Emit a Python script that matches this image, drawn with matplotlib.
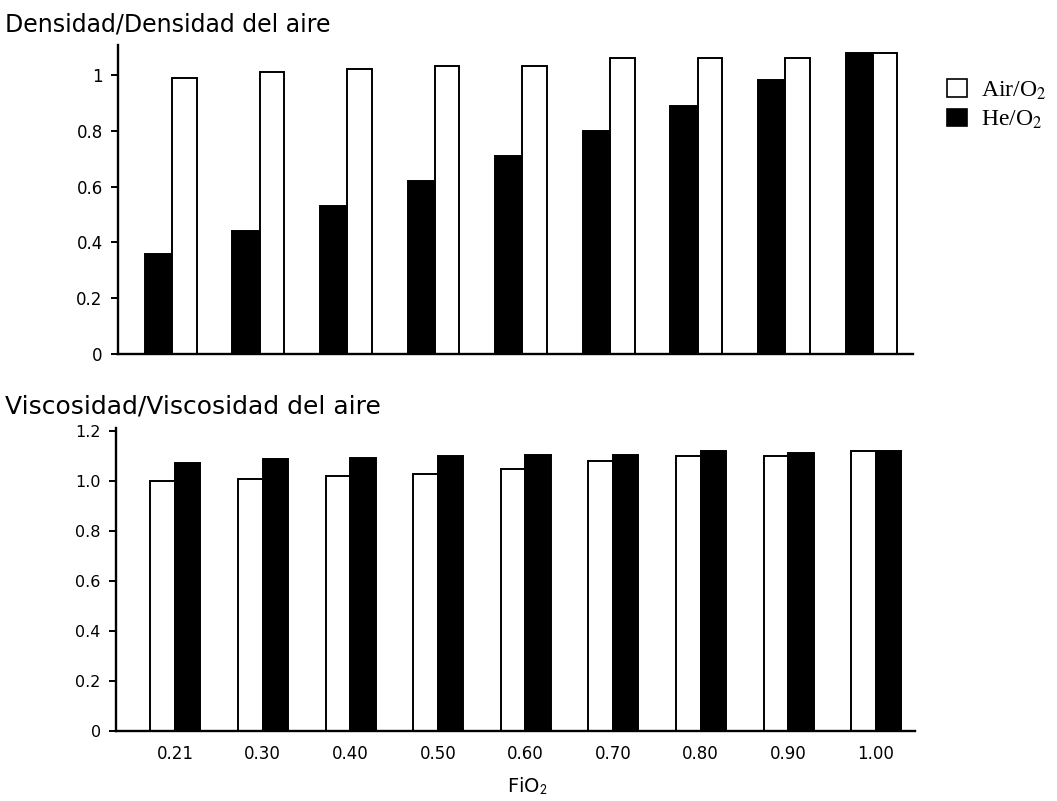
import numpy as np
import matplotlib
matplotlib.use("Agg")
import matplotlib.pyplot as plt
from matplotlib.patches import Patch

plt.rcParams['mathtext.fontset'] = 'stix'

# datos
fio2 = ['0.21', '0.30', '0.40', '0.50', '0.60', '0.70', '0.80', '0.90', '1.00']
dens_air = [0.99, 1.01, 1.02, 1.03, 1.03, 1.06, 1.06, 1.06, 1.08]
dens_he = [0.36, 0.44, 0.53, 0.62, 0.71, 0.80, 0.89, 0.98, 1.08]
visc_air = [1.00, 1.01, 1.02, 1.03, 1.05, 1.08, 1.10, 1.10, 1.12]
visc_he = [1.075, 1.09, 1.095, 1.10, 1.105, 1.105, 1.12, 1.115, 1.12]

W, H = 1057, 801
fig = plt.figure(figsize=(W / 100, H / 100), dpi=100)

x = np.arange(len(fio2))
px = 87.6  # pixeles por grupo

def estilo(ax):
    for s in ['top', 'right']:
        ax.spines[s].set_visible(False)
    for s in ['left', 'bottom']:
        ax.spines[s].set_linewidth(1.7)
    ax.tick_params(axis='y', length=5, width=1.4, labelsize=12, pad=6)
    ax.tick_params(axis='x', length=0)

# grafico de arriba: densidad
ax1 = fig.add_axes([118 / W, 1 - 354 / H, (913 - 118) / W, (354 - 45) / H])
ax1.bar(x - 0.155, dens_he, width=0.31, color='black', edgecolor='black', linewidth=1.4)
ax1.bar(x + 0.14, dens_air, width=0.28, color='white', edgecolor='black', linewidth=1.4)
ax1.set_xlim(-54 / px, (913 - 172) / px)
ax1.set_ylim(0, 1.107)
ax1.set_yticks([0, 0.2, 0.4, 0.6, 0.8, 1])
ax1.set_yticklabels(['0', '0.2', '0.4', '0.6', '0.8', '1'])
ax1.set_xticks([])
estilo(ax1)
fig.text(5 / W, 1 - 24 / H, 'Densidad/Densidad del aire', fontsize=17, va='center', ha='left')

# grafico de abajo: viscosidad
ax2 = fig.add_axes([116 / W, 1 - 731 / H, (915 - 116) / W, (731 - 428) / H])
ax2.bar(x - 0.14, visc_air, width=0.28, color='white', edgecolor='black', linewidth=1.4)
ax2.bar(x + 0.145, visc_he, width=0.29, color='black', edgecolor='black', linewidth=1.4)
ax2.set_xlim(-59 / px, (915 - 175) / px)
ax2.set_ylim(0, 1.214)
ax2.set_yticks([0, 0.2, 0.4, 0.6, 0.8, 1.0, 1.2])
ax2.set_yticklabels(['0', '0.2', '0.4', '0.6', '0.8', '1.0', '1.2'])
ax2.set_xticks(x)
ax2.set_xticklabels(fio2, fontsize=12)
estilo(ax2)
ax2.tick_params(axis='y', labelsize=11.5)
ax2.tick_params(axis='x', pad=10)
fig.text(5 / W, 1 - 406 / H, 'Viscosidad/Viscosidad del aire', fontsize=18, va='center', ha='left')
fig.text(527 / W, 1 - 786 / H, r'FiO$_{\mathsf{2}}$', fontsize=14, ha='center', va='center')

# leyenda
handles = [Patch(facecolor='white', edgecolor='black', linewidth=1.2, label=r'Air/O$_2$'),
           Patch(facecolor='black', edgecolor='black', linewidth=1.2, label=r'He/O$_2$')]
fig.legend(handles=handles, loc='upper left', bbox_to_anchor=(926 / W, 1 - 58 / H),
           frameon=False, handlelength=0.85, handleheight=0.75, handletextpad=0.6,
           labelspacing=0.3, prop={'family': 'Liberation Serif', 'size': 17})

fig.savefig('out.png', dpi=100)
